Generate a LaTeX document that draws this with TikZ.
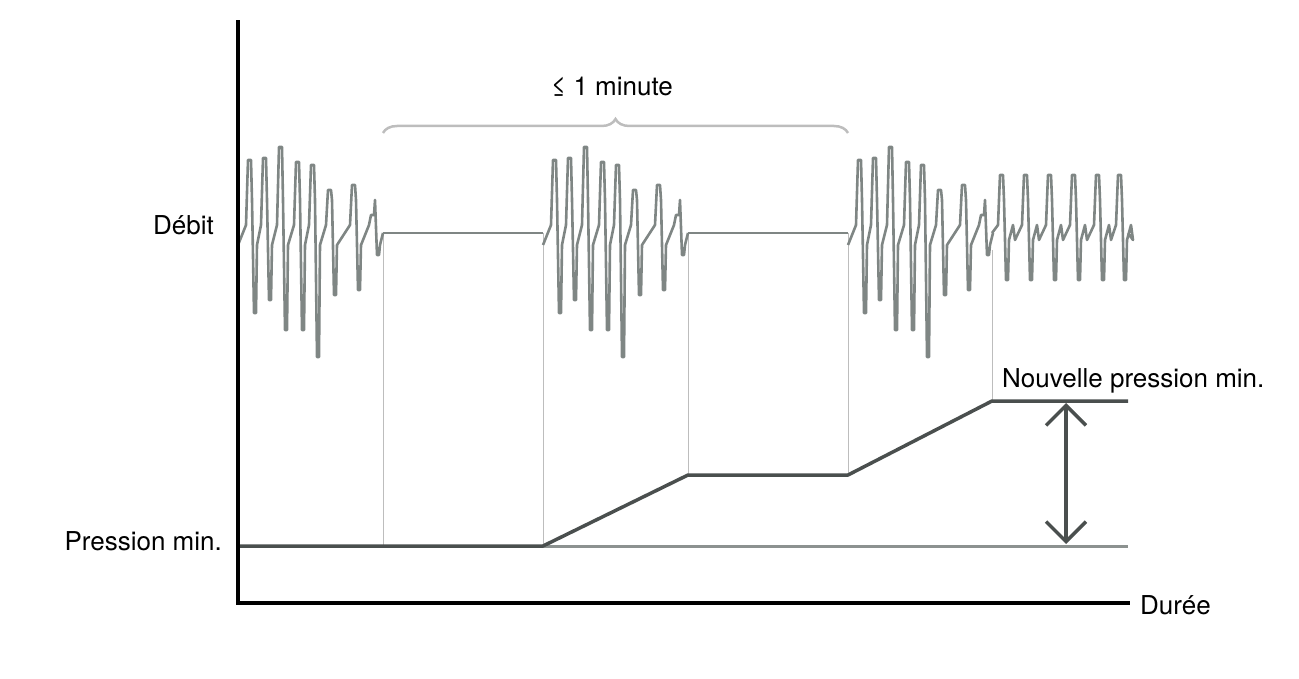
\documentclass[tikz,border=0pt]{standalone}
\usepackage{fontspec}
\setmainfont{TeX Gyre Heros}
\usetikzlibrary{decorations.pathreplacing,arrows.meta}
\definecolor{wave}{HTML}{7F8684}
\definecolor{dark}{HTML}{4A4F4E}
\definecolor{lite}{HTML}{BDBDBD}
\begin{document}
\begin{tikzpicture}[x=1pt,y=-1pt,
  wavestyle/.style={draw=wave,line width=2.6pt,line join=round},
  guide/.style={draw=lite,line width=0.8pt},
  lbl/.style={font=\fontsize{26}{30}\selectfont,inner sep=0pt}]
\useasboundingbox (0,0) rectangle (1299,679);
% guides
\draw[guide] (383,233) -- (383,546);
\draw[guide] (543,233) -- (543,546);
\draw[guide] (688,233) -- (688,475);
\draw[guide] (848,233) -- (848,475);
\draw[guide] (992,250) -- (992,401);
% flat flow
\draw[draw=wave,line width=1.5pt] (383,233) -- (543,233);
\draw[draw=wave,line width=1.5pt] (688,233) -- (848,233);
% bursts
\foreach \o in {0,305,610}{
\draw[wavestyle] (238+\o,245) \foreach \x/\t/\b in {248/160/313,263/158/300,279/147/330,296/162/330,311/165/357,328/190/295,352/185/290,371/215/255}{
 -- (\x+\o-2,225) -- (\x+\o,\t) -- (\x+\o+3,\t) -- (\x+\o+4,200) -- (\x+\o+6,\b) -- (\x+\o+8,\b) -- (\x+\o+9,245)} -- (383+\o,233);
}
\draw[wavestyle] (992,233) \foreach \x in {1000,1024,1048,1072,1096,1118}{
 -- (\x-2,225) -- (\x,175) -- (\x+3,175) -- (\x+4,200) -- (\x+6,280) -- (\x+8,280) -- (\x+9,240) -- (\x+13,225) -- (\x+15,240)} -- (1128,233);
% pressure
\draw[draw=wave!90,line width=3pt] (543,546) -- (1128,546);
\draw[draw=dark,line width=3.5pt,line join=round] (238,546) -- (543,546) -- (688,475) -- (848,475) -- (992,401) -- (1128,401);
\coordinate (atop) at (1066,403);
\coordinate (abot) at (1066,544);
\draw[draw=dark,line width=3.5pt,{Straight Barb[length=20pt,width=40pt,line width=3.5pt]}-{Straight Barb[length=20pt,width=40pt,line width=3.5pt]}] (atop) -- (abot);
% axes
\draw[line width=3.5pt,line cap=rect] (238,22) -- (238,603) -- (1128,603);
% brace
\draw[draw=lite,line width=2.5pt,decorate,decoration={brace,amplitude=14pt}] (383,133) -- (848,133);
% labels
\node[lbl] (t1) at (612,87) {≤ 1 minute};
\node[lbl,anchor=east] (deb) at (214,225) {Débit};
\node[lbl,anchor=east] (pm) at (222,541) {Pression min.};
\node[lbl,anchor=west] (dur) at (1140,605) {Durée};
\node[lbl,anchor=west] (npm) at (1002,381) {Nouvelle pression min.};
\end{tikzpicture}
\end{document}
